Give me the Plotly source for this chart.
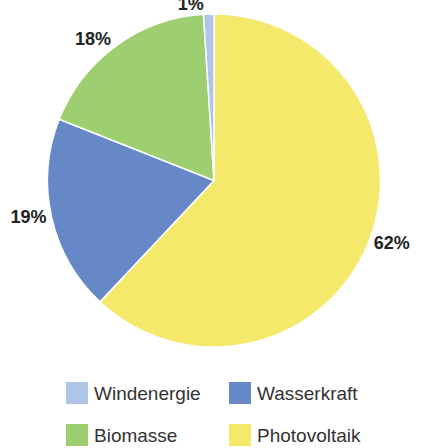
import plotly.graph_objects as go

# Pie order (clockwise from 12 o'clock)
labels = ["Photovoltaik", "Wasserkraft", "Biomasse", "Windenergie"]
values = [62, 19, 18, 1]
colors = ["#f5e96c", "#6688c6", "#9dce6f", "#aec5e8"]

# Legend order (row by row, two columns)
legend_order = ["Windenergie", "Wasserkraft", "Biomasse", "Photovoltaik"]

W, H = 421, 448
color_of = dict(zip(labels, colors))

fig = go.Figure()
fig.add_trace(go.Pie(
    labels=labels,
    values=values,
    sort=False,
    direction="clockwise",
    rotation=0,
    marker=dict(colors=colors, line=dict(color="white", width=1.5)),
    texttemplate="%{value}%",
    textposition="outside",
    outsidetextfont=dict(family="Liberation Sans, Arial, sans-serif", size=18, color="#222222", weight="bold"),
    automargin=False,
    showlegend=False,
    hoverinfo="label+percent",
    domain=dict(x=[47 / W, 381 / W], y=[101 / H, 434 / H]),
))

# Custom legend: square swatches + text
col_x = [66, 229]
row_y = [393, 435]
shapes = []
annotations = []
for i, name in enumerate(legend_order):
    cx = col_x[i % 2]
    cy = row_y[i // 2]
    shapes.append(dict(
        type="rect", xref="paper", yref="paper",
        x0=cx / W, x1=(cx + 22) / W,
        y0=1 - (cy + 11) / H, y1=1 - (cy - 11) / H,
        fillcolor=color_of[name], line=dict(width=0),
    ))
    annotations.append(dict(
        xref="paper", yref="paper",
        x=(cx + 26) / W, y=1 - cy / H,
        xanchor="left", yanchor="middle",
        text=name, showarrow=False,
        font=dict(family="Liberation Sans, Arial, sans-serif", size=19, color="#333333"),
    ))

fig.update_layout(
    width=W, height=H,
    margin=dict(l=0, r=0, t=0, b=0),
    paper_bgcolor="white",
    plot_bgcolor="white",
    shapes=shapes,
    annotations=annotations,
)

fig.write_html(
    "out.html",
    config={"displayModeBar": False},
    post_script="document.body.style.margin='0';document.body.style.overflow='hidden';",
)
